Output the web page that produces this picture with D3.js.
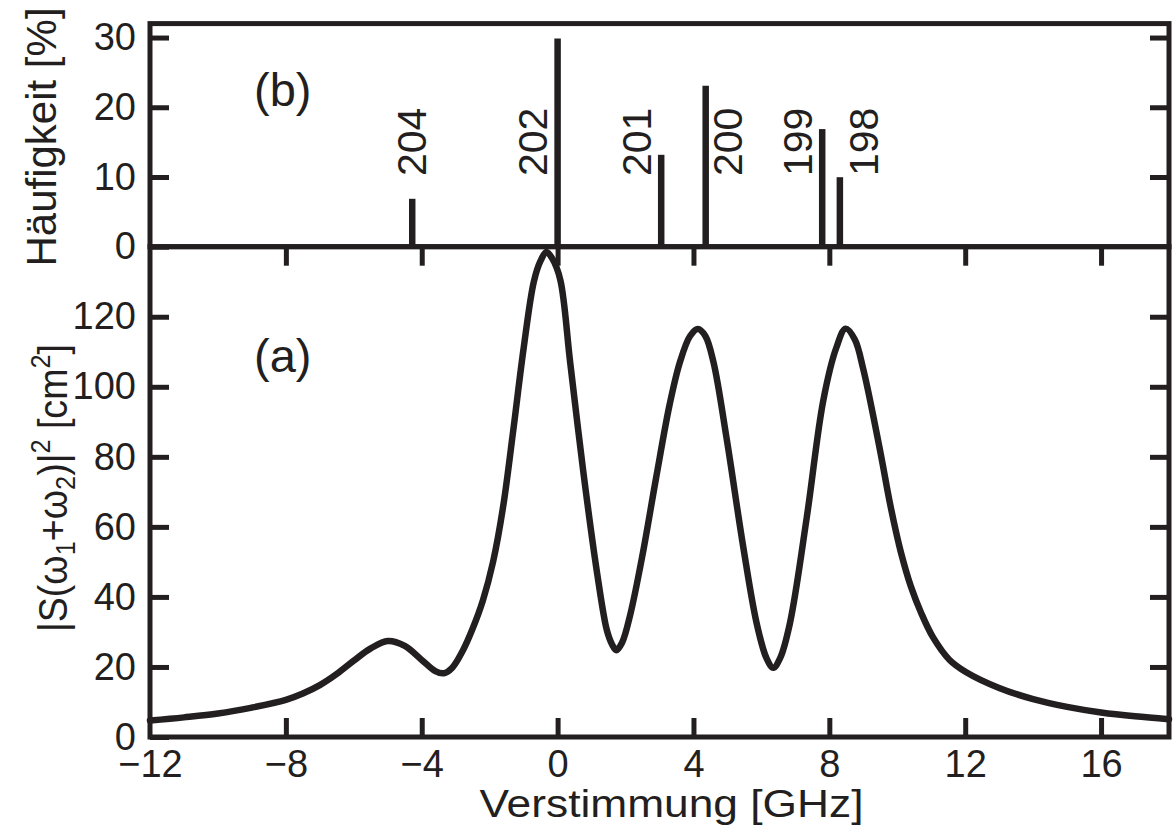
<!DOCTYPE html>
<html>
<head>
<meta charset="utf-8">
<script src="https://cdn.jsdelivr.net/npm/d3@7"></script>
<style>
  html, body { margin: 0; padding: 0; background: #fff; }
  svg { display: block; }
  text { font-family: "Liberation Sans", Arial, Helvetica, sans-serif; fill: #231f20; }
</style>
</head>
<body>
<svg id="chart" width="1173" height="834"></svg>
<script>
// ---- data ----
// Hg isotopes: detuning of each line [GHz] and natural abundance [%]
const isotopes = ["204", "202", "201", "200", "199", "198"];
const isotopeDetuning = [-4.28, 0, 3.05, 4.36, 7.79, 8.31];
const isotopeAbundance = [6.87, 29.86, 13.18, 23.10, 16.87, 9.97];

// two-photon signal |S(w1+w2)|^2 [cm^2] versus detuning [GHz]
const detuning = [-12, -11, -10, -9, -8, -7.5, -7, -6.5, -6, -5.5, -5, -4.5, -4, -3.6, -3.35, -3.1,
  -2.8, -2.5, -2.2, -1.9, -1.6, -1.3, -1.0, -0.7, -0.5, -0.33, -0.15, 0.08, 0.37, 0.76, 1.16,
  1.45, 1.6, 1.73, 1.9, 2.14, 2.5, 2.9, 3.3, 3.6, 3.9, 4.13, 4.35, 4.59, 4.98, 5.47, 5.86,
  6.15, 6.35, 6.55, 6.84, 7.34, 7.82, 8.2, 8.48, 8.75, 9.0, 9.49, 9.8, 10.1, 10.4, 10.7, 11.05,
  11.54, 12.03, 13, 14, 15, 16, 17, 18];
const signal = [4.7, 5.6, 6.7, 8.4, 10.6, 12.4, 14.8, 18.0, 21.8, 25.3, 27.4, 26.0, 22.0, 18.8, 18.2, 19.8,
  24.5, 31, 39, 50, 66, 88, 111, 130, 136, 138.5, 136.5, 130.5, 107, 75.5, 47,
  30.5, 26.5, 24.8, 27, 35, 52, 74, 95, 107, 114.5, 116.5, 114.5, 107, 85, 54, 32.5,
  22.5, 19.8, 22.5, 32.5, 63, 96, 111, 116.6, 113.5, 105, 82, 66, 53, 43, 35.5, 28.5,
  22, 18.5, 14, 10.8, 8.6, 7.0, 5.9, 5.1];

// axis ticks
const xTicks = [-12, -8, -4, 0, 4, 8, 12, 16];
const topYTicks = [0, 10, 20, 30];
const bottomYTicks = [0, 20, 40, 60, 80, 100, 120];

// ---- layout ----
const ink = "#231f20";
const left = 150, right = 1169;
const topY = 23.6, midY = 246.7, bottomY = 737;
const tickLen = 19;
const axisW = 5;

const x = d3.scaleLinear().domain([-12, 18]).range([left, right]);
const yTop = d3.scaleLinear().domain([0, 32]).range([midY, topY]);
const yBot = d3.scaleLinear().domain([0, 140]).range([bottomY, midY]);

const svg = d3.select("#chart");
const fmt = v => (v < 0 ? "\u2212" + Math.abs(v) : String(v));

// ---- panel (b): isotope abundance sticks ----
svg.append("g").selectAll("line")
  .data(isotopes.map((d, i) => ({ name: d, pos: isotopeDetuning[i], val: isotopeAbundance[i] })))
  .join("line")
  .attr("x1", d => x(d.pos)).attr("x2", d => x(d.pos))
  .attr("y1", yTop(0)).attr("y2", d => yTop(d.val))
  .attr("stroke", ink).attr("stroke-width", 6.5);

// isotope mass labels, shifted beside their stick
const labelShift = [-1, -25, -25, 22, -25, 24];
svg.append("g").selectAll("text")
  .data(isotopes)
  .join("text")
  .attr("transform", (d, i) => `translate(${x(isotopeDetuning[i]) + labelShift[i] + 14.5},176) rotate(-90)`)
  .attr("font-size", 41)
  .text(d => d);

// ---- panel (a): signal curve ----
const line = d3.line()
  .x((d, i) => x(detuning[i]))
  .y(d => yBot(d))
  .curve(d3.curveCatmullRom.alpha(0.5));

svg.append("path")
  .datum(signal)
  .attr("d", line)
  .attr("fill", "none")
  .attr("stroke", ink)
  .attr("stroke-width", 6.5)
  .attr("stroke-linejoin", "round")
  .attr("stroke-linecap", "round");

// ---- axes ----
// left axes
svg.append("g").attr("transform", `translate(${left},0)`)
  .call(d3.axisLeft(yTop).tickValues(topYTicks).tickSize(-tickLen).tickPadding(14).tickFormat(fmt));
svg.append("g").attr("transform", `translate(${left},0)`)
  .call(d3.axisLeft(yBot).tickValues(bottomYTicks).tickSize(-tickLen).tickPadding(14).tickFormat(fmt));
// right axes (ticks only)
svg.append("g").attr("transform", `translate(${right},0)`)
  .call(d3.axisRight(yTop).tickValues(topYTicks.slice(1)).tickSize(-tickLen).tickFormat(""));
svg.append("g").attr("transform", `translate(${right},0)`)
  .call(d3.axisRight(yBot).tickValues(bottomYTicks.slice(1)).tickSize(-tickLen).tickFormat(""));
// bottom axis with labels
svg.append("g").attr("transform", `translate(0,${bottomY})`)
  .call(d3.axisBottom(x).tickValues(xTicks.slice(1)).tickSize(-tickLen).tickFormat(""));
svg.append("g").attr("class", "xlabels").attr("transform", `translate(0,${bottomY})`)
  .call(d3.axisBottom(x).tickValues(xTicks).tickSize(0).tickPadding(13).tickFormat(fmt));
// ticks hanging from the panel separator
svg.append("g").attr("transform", `translate(0,${midY})`)
  .call(d3.axisTop(x).tickValues(xTicks.slice(1)).tickSize(-tickLen).tickFormat(""));

svg.selectAll(".domain").remove();
svg.selectAll(".tick line").attr("stroke", ink).attr("stroke-width", axisW);
svg.selectAll(".tick text").attr("font-size", 38).attr("fill", ink);

// panel frames
svg.append("rect")
  .attr("x", left).attr("y", topY).attr("width", right - left).attr("height", midY - topY)
  .attr("fill", "none").attr("stroke", ink).attr("stroke-width", axisW);
svg.append("rect")
  .attr("x", left).attr("y", midY).attr("width", right - left).attr("height", bottomY - midY)
  .attr("fill", "none").attr("stroke", ink).attr("stroke-width", axisW);

// ---- titles ----
svg.append("text")
  .attr("x", (left + right) / 2 + 12).attr("y", 817)
  .attr("text-anchor", "middle").attr("font-size", 38)
  .attr("textLength", 384).attr("lengthAdjust", "spacingAndGlyphs")
  .text("Verstimmung [GHz]");

svg.append("text")
  .attr("transform", "translate(56,137) rotate(-90)")
  .attr("text-anchor", "middle").attr("font-size", 42)
  .text("Häufigkeit [%]");

const yt = svg.append("text")
  .attr("transform", "translate(67,488) rotate(-90)")
  .attr("text-anchor", "middle").attr("font-size", 40)
  .attr("textLength", 288).attr("lengthAdjust", "spacingAndGlyphs");
yt.append("tspan").text("|S(\u03c9");
yt.append("tspan").attr("font-size", 27).attr("dy", 8).text("1");
yt.append("tspan").attr("dy", -8).text("+\u03c9");
yt.append("tspan").attr("font-size", 27).attr("dy", 8).text("2");
yt.append("tspan").attr("dy", -8).text(")|");
yt.append("tspan").attr("font-size", 27).attr("dy", -17).text("2");
yt.append("tspan").attr("dy", 17).text(" [cm");
yt.append("tspan").attr("font-size", 27).attr("dy", -17).text("2");
yt.append("tspan").attr("dy", 17).text("]");

// panel tags
svg.append("text").attr("x", 254).attr("y", 106).attr("font-size", 47).text("(b)");
svg.append("text").attr("x", 254).attr("y", 372).attr("font-size", 47).text("(a)");
</script>
</body>
</html>
